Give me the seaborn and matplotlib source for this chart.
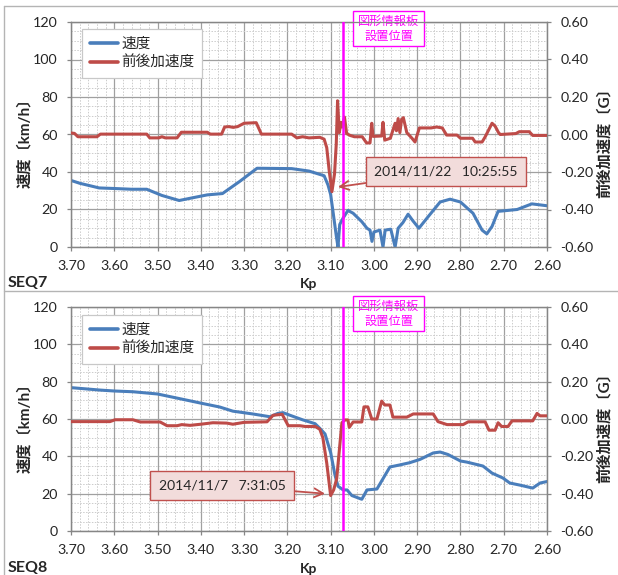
import matplotlib
matplotlib.use("Agg")
import matplotlib.pyplot as plt
import seaborn as sns
from matplotlib.ticker import MultipleLocator, FormatStrFormatter
from matplotlib.lines import Line2D

# ---------------- data ----------------
SERIES_NAMES = ["速度", "前後加速度"]
SIGN_KP = 3.071
SIGN_TEXT = "図形情報板\n設置位置"

# SEQ7 speed (km/h)
seq7_kp_v = [3.700, 3.680, 3.635, 3.600, 3.560, 3.525, 3.490, 3.450, 3.420, 3.385,
             3.350, 3.310, 3.270, 3.190, 3.150, 3.115, 3.106, 3.100, 3.094, 3.087,
             3.083, 3.079, 3.071, 3.060, 3.048, 3.028, 3.016, 3.009, 3.0045, 3.000,
             2.986, 2.979, 2.974, 2.961, 2.951, 2.944, 2.933, 2.921, 2.910, 2.896,
             2.877, 2.847, 2.824, 2.800, 2.771, 2.750, 2.739, 2.727, 2.713, 2.669,
             2.635, 2.600]
seq7_speed = [35.5, 34.0, 31.5, 31.2, 30.8, 30.8, 27.5, 24.8, 26.2, 27.8,
              28.5, 35.0, 42.0, 41.8, 40.5, 38.0, 33.0, 28.0, 18.0, 6.0,
              0.0, 12.0, 15.5, 19.5, 18.0, 13.5, 10.0, 9.0, 3.0, 8.0,
              9.0, 0.0, 9.0, 9.5, 0.0, 10.0, 13.0, 17.5, 14.0, 10.0,
              15.5, 24.0, 25.5, 24.0, 18.0, 9.0, 7.0, 11.0, 19.0, 20.0,
              23.0, 22.0]

# SEQ7 longitudinal acceleration (G)
seq7_kp_g = [3.700, 3.692, 3.684, 3.640, 3.632, 3.525, 3.518, 3.497, 3.490, 3.482,
             3.455, 3.445, 3.385, 3.378, 3.352, 3.345, 3.335, 3.325, 3.315, 3.300,
             3.272, 3.260, 3.190, 3.178, 3.165, 3.150, 3.125, 3.115, 3.109, 3.103,
             3.097, 3.091, 3.087, 3.084, 3.080, 3.076, 3.073, 3.068, 3.063, 3.055,
             3.045, 3.027, 3.017, 3.009, 3.005, 3.002, 2.982, 2.979, 2.975, 2.962,
             2.951, 2.948, 2.944, 2.940, 2.936, 2.932, 2.924, 2.912, 2.905, 2.895,
             2.868, 2.855, 2.842, 2.832, 2.808, 2.800, 2.772, 2.766, 2.750, 2.743,
             2.727, 2.720, 2.712, 2.708, 2.672, 2.664, 2.641, 2.633, 2.600]
seq7_acc = [0.008, 0.006, -0.012, -0.012, 0.002, 0.002, -0.018, -0.018, -0.012, -0.018,
            -0.018, 0.012, 0.012, 0.002, 0.002, 0.040, 0.042, 0.038, 0.042, 0.060,
            0.063, 0.002, 0.002, -0.018, -0.012, -0.018, -0.015, -0.025, -0.070, -0.200,
            -0.305, -0.210, -0.050, 0.180, 0.010, 0.065, 0.040, 0.093, 0.005, -0.005,
            -0.012, -0.012, -0.045, -0.045, 0.060, -0.010, -0.008, 0.065, -0.030, -0.020,
            0.060, 0.020, 0.085, 0.010, 0.080, 0.090, 0.010, -0.020, -0.040, 0.035,
            0.035, 0.040, 0.035, -0.003, -0.003, -0.020, -0.020, -0.040, -0.040, -0.013,
            0.060, 0.045, 0.010, 0.000, 0.005, 0.015, 0.015, -0.005, -0.005]

# SEQ8 speed (km/h)
seq8_kp_v = [3.700, 3.633, 3.600, 3.557, 3.500, 3.455, 3.400, 3.356, 3.326, 3.280,
             3.240, 3.222, 3.210, 3.194, 3.164, 3.136, 3.125, 3.113, 3.100, 3.090,
             3.083, 3.071, 3.062, 3.051, 3.028, 3.016, 2.993, 2.963, 2.940, 2.917,
             2.893, 2.863, 2.847, 2.829, 2.800, 2.785, 2.748, 2.727, 2.702, 2.686,
             2.663, 2.633, 2.616, 2.600]
seq8_speed = [76.8, 75.5, 75.0, 74.6, 73.4, 71.2, 68.5, 66.4, 64.2, 62.7,
              61.2, 63.0, 63.4, 62.0, 59.5, 57.5, 55.0, 52.0, 42.0, 30.0,
              24.0, 22.0, 22.0, 19.0, 17.0, 22.0, 22.5, 34.3, 35.4, 36.6,
              38.4, 41.8, 42.3, 41.0, 37.5, 36.9, 34.8, 31.0, 28.4, 25.7,
              24.6, 23.0, 25.7, 26.5]

# SEQ8 longitudinal acceleration (G)
seq8_kp_g = [3.700, 3.610, 3.598, 3.557, 3.540, 3.494, 3.478, 3.455, 3.444, 3.425,
             3.400, 3.372, 3.340, 3.326, 3.300, 3.247, 3.233, 3.212, 3.198, 3.171,
             3.159, 3.136, 3.125, 3.118, 3.109, 3.100, 3.093, 3.086, 3.074, 3.067,
             3.060, 3.057, 3.048, 3.028, 3.023, 3.014, 3.005, 2.993, 2.982, 2.975,
             2.963, 2.956, 2.924, 2.909, 2.863, 2.852, 2.831, 2.794, 2.782, 2.743,
             2.734, 2.720, 2.713, 2.705, 2.690, 2.681, 2.633, 2.623, 2.616, 2.600]
seq8_acc = [-0.014, -0.014, -0.004, -0.004, -0.016, -0.016, -0.036, -0.036, -0.030, -0.034,
            -0.028, -0.020, -0.022, -0.028, -0.018, -0.015, 0.020, 0.025, -0.036, -0.036,
            -0.040, -0.040, -0.055, -0.100, -0.236, -0.410, -0.380, -0.320, -0.020, -0.005,
            -0.005, -0.045, -0.016, -0.016, 0.065, 0.065, 0.000, 0.000, 0.096, 0.075,
            0.075, 0.010, 0.010, 0.027, 0.027, -0.014, -0.030, -0.030, -0.015, -0.015,
            -0.060, -0.060, -0.020, -0.040, -0.040, -0.010, -0.010, 0.030, 0.017, 0.017]

# annotations: (label, text xy (kp, G), arrow tip (kp, G))
seq7_note = ("2014/11/22   10:25:55", (2.833, -0.197), (3.083, -0.28))
seq8_note = ("2014/11/7   7:31:05", (3.351, -0.356), (3.113, -0.40))

# ---------------- style ----------------
sns.set_style("white")
plt.rcParams['font.family'] = ['Lato', 'Noto Sans CJK JP']
plt.rcParams['axes.unicode_minus'] = False

BLUE = '#4a7ebb'
RED = '#be4b48'
MAGENTA = '#ff00ff'
AXIS_GRAY = '#868686'

W, H = 618, 575
fig = plt.figure(figsize=(W / 100, H / 100), dpi=100)


def rect(l, t, r, b):
    return [l / W, 1 - b / H, (r - l) / W, (b - t) / H]


def fx(px):
    return px / W


def fy(py):
    return 1 - py / H


def panel(box, kp_v, speed, kp_g, acc, note, seq_name, lab_y, seq_y, leg_top):
    ax = fig.add_axes(rect(*box))
    sns.lineplot(x=kp_v, y=speed, ax=ax, color=BLUE, lw=2.2, sort=False,
                 estimator=None, legend=False, solid_joinstyle='round', zorder=3)
    ax.set_xlim(3.70, 2.60)
    ax.set_ylim(0, 120)
    ax.xaxis.set_major_locator(MultipleLocator(0.1))
    ax.xaxis.set_minor_locator(MultipleLocator(0.02))
    ax.yaxis.set_major_locator(MultipleLocator(20))
    ax.yaxis.set_minor_locator(MultipleLocator(5))
    ax.xaxis.set_major_formatter(FormatStrFormatter('%.2f'))
    ax.grid(which='major', color='#a0a0a0', lw=0.9)
    ax.grid(which='minor', color='#cccccc', lw=0.7, ls=(0, (1.5, 1.5)))
    ax.set_axisbelow(True)
    ax.tick_params(which='major', direction='out', length=3, width=0.9,
                   color=AXIS_GRAY, labelsize=10.3, pad=6.5, left=True, bottom=True)
    ax.tick_params(which='minor', length=0)
    for s in ax.spines.values():
        s.set_color(AXIS_GRAY)
        s.set_linewidth(0.9)
    ax.set_xlabel('')
    ax.set_ylabel('')

    ax2 = ax.twinx()
    sns.lineplot(x=kp_g, y=acc, ax=ax2, color=RED, lw=2.2, sort=False,
                 estimator=None, legend=False, solid_joinstyle='round', zorder=3)
    ax2.set_xlim(3.70, 2.60)
    ax2.set_ylim(-0.6, 0.6)
    ax2.yaxis.set_major_locator(MultipleLocator(0.2))
    ax2.yaxis.set_major_formatter(FormatStrFormatter('%.2f'))
    ax2.tick_params(which='major', direction='out', length=3, width=0.9,
                    color=AXIS_GRAY, labelsize=10.3, pad=6.5, right=True)
    ax2.tick_params(which='minor', length=0)
    for s in ax2.spines.values():
        s.set_color(AXIS_GRAY)
        s.set_linewidth(0.9)
    ax2.set_ylabel('')
    ax2.set_xlabel('')

    # sign position line + label
    ax2.axvline(SIGN_KP, color=MAGENTA, lw=1.8, zorder=4)
    ax.text(2.966, 116.5, SIGN_TEXT, ha='center', va='center', color=MAGENTA,
            fontsize=8.8, linespacing=1.3, zorder=6, clip_on=False,
            bbox=dict(boxstyle='square,pad=0.38', fc='white', ec=MAGENTA, lw=1.0))

    # annotation
    txt, xyt, tip = note
    ax2.annotate(txt, xy=tip, xytext=xyt, ha='center', va='center', fontsize=10,
                 zorder=6,
                 bbox=dict(boxstyle='square,pad=0.6', fc='#f2dcdb', ec='#c0504d', lw=1.0),
                 arrowprops=dict(arrowstyle='->', color='#c0504d', lw=1.3,
                                 shrinkA=0, shrinkB=0, mutation_scale=16))

    # legend
    handles = [Line2D([], [], color=BLUE, lw=2.6), Line2D([], [], color=RED, lw=2.6)]
    leg = ax2.legend(handles, SERIES_NAMES, loc='upper left',
                     bbox_to_anchor=(0.023, leg_top), borderaxespad=0,
                     fontsize=10.5, handlelength=1.9, handletextpad=0.25,
                     borderpad=0.55, labelspacing=0.35, fancybox=False,
                     framealpha=1, edgecolor='#c8c8c8')
    leg.get_frame().set_linewidth(0.9)
    leg.set_zorder(7)

    # axis titles
    fig.text(fx(25), fy(lab_y), '速度〔km/h〕', rotation=90, ha='center', va='center',
             fontsize=11, fontweight='bold')
    fig.text(fx(604), fy(lab_y), '前後加速度〔G〕', rotation=90, ha='center', va='center',
             fontsize=11, fontweight='bold')
    fig.text(fx(309), fy(seq_y + 1), 'Kp', ha='center', va='center',
             fontsize=10, fontweight='bold')
    fig.text(fx(8), fy(seq_y), seq_name, ha='left', va='center',
             fontsize=11.5, fontweight='bold')
    return ax, ax2


panel((71, 22, 547, 247), seq7_kp_v, seq7_speed, seq7_kp_g, seq7_acc,
      seq7_note, 'SEQ7', 139, 283, 0.969)
panel((71, 307, 547, 531), seq8_kp_v, seq8_speed, seq8_kp_g, seq8_acc,
      seq8_note, 'SEQ8', 424, 568, 0.964)

# panel borders
border = '#b4b4b4'
fig.add_artist(Line2D([fx(4), 1], [fy(6), fy(6)], color=border, lw=1.0))
fig.add_artist(Line2D([fx(4), fx(4)], [fy(6), 0], color=border, lw=1.0))
fig.add_artist(Line2D([fx(4), 1], [fy(291), fy(291)], color=border, lw=1.0))

fig.savefig('out.png', dpi=100)
